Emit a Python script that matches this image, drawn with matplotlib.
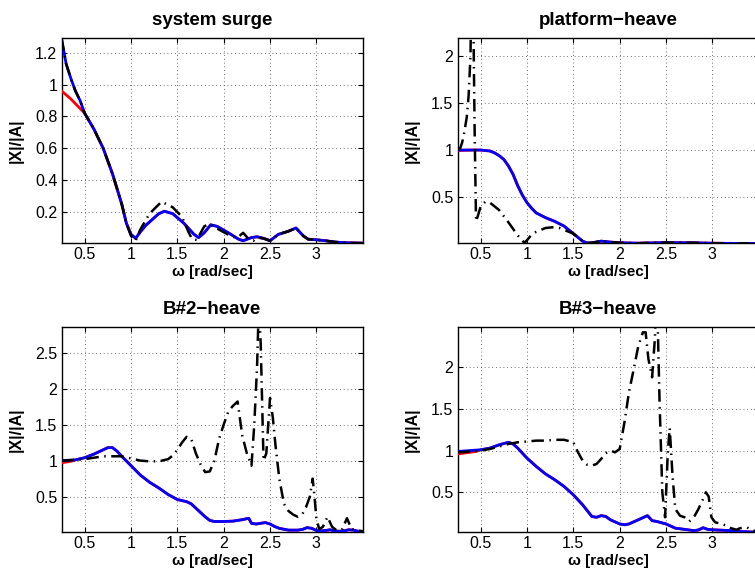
import matplotlib
matplotlib.use("Agg")
import matplotlib.pyplot as plt
import numpy as np

plt.rcParams['font.family'] = ['Liberation Sans', 'DejaVu Sans']

# ---------------- data ----------------
titles = ["system surge", "platform\u2212heave", "B#2\u2212heave", "B#3\u2212heave"]
xticks = [0.5, 1, 1.5, 2, 2.5, 3]
xtick_labels = ["0.5", "1", "1.5", "2", "2.5", "3"]
yticks_surge = [0.2, 0.4, 0.6, 0.8, 1.0, 1.2]
yticks_heave = [0.5, 1.0, 1.5, 2.0, 2.5]
xlim = (0.25, 3.5)
ylims = [(0.004, 1.29), (0.007, 2.19), (0.005, 2.85), (0.02, 2.48)]

# system surge
w1_blue = [0.25, 0.3, 0.35, 0.4, 0.45, 0.5, 0.6, 0.7, 0.8, 0.9, 0.95, 1.0, 1.05, 1.1, 1.16, 1.3, 1.36,
           1.45, 1.57, 1.68, 1.73, 1.79, 1.86, 1.93, 2.05, 2.16, 2.21, 2.3, 2.36, 2.43, 2.5, 2.59, 2.7,
           2.78, 2.86, 2.91, 3.02, 3.1, 3.2, 3.3, 3.4, 3.5]
v1_blue = [1.29, 1.13, 1.04, 0.96, 0.9, 0.82, 0.72, 0.6, 0.44, 0.25, 0.13, 0.06, 0.035, 0.075, 0.117, 0.19,
           0.205, 0.19, 0.13, 0.06, 0.04, 0.07, 0.12, 0.11, 0.07, 0.03, 0.02, 0.04, 0.045, 0.035, 0.02,
           0.06, 0.08, 0.1, 0.05, 0.03, 0.025, 0.02, 0.012, 0.008, 0.006, 0.005]
w1_red_head = [0.25, 0.3, 0.35, 0.4, 0.45]
v1_red_head = [0.96, 0.935, 0.91, 0.88, 0.85]
w1_black = [0.25, 0.3, 0.35, 0.4, 0.45, 0.5, 0.6, 0.7, 0.8, 0.9, 0.95, 1.0, 1.05, 1.1, 1.2, 1.33,
            1.45, 1.55, 1.62, 1.66, 1.71, 1.79, 1.84, 1.95, 2.09, 2.15, 2.21, 2.27, 2.32, 2.36, 2.43,
            2.5, 2.59, 2.7, 2.78, 2.86, 2.91, 3.02, 3.1, 3.2, 3.3, 3.4, 3.5]
v1_black = [1.29, 1.13, 1.04, 0.96, 0.9, 0.82, 0.72, 0.6, 0.44, 0.25, 0.13, 0.05, 0.02, 0.09, 0.19, 0.265,
            0.23, 0.17, 0.075, 0.03, 0.025, 0.11, 0.125, 0.09, 0.045, 0.04, 0.07, 0.03, 0.02, 0.04, 0.035,
            0.02, 0.06, 0.08, 0.1, 0.05, 0.03, 0.025, 0.02, 0.012, 0.008, 0.006, 0.005]

# platform heave
w2_blue = [0.25, 0.4, 0.5, 0.6, 0.65, 0.7, 0.75, 0.8, 0.85, 0.9, 0.95, 1.0, 1.05, 1.1, 1.2, 1.3, 1.4,
           1.5, 1.6, 1.65, 1.7, 1.8, 1.9, 2.0, 2.2, 2.5, 2.8, 3.0, 3.2, 3.5]
v2_blue = [1.0, 1.0, 1.0, 0.99, 0.97, 0.94, 0.9, 0.83, 0.74, 0.62, 0.52, 0.44, 0.38, 0.33, 0.28, 0.24, 0.19,
           0.11, 0.03, 0.01, 0.012, 0.03, 0.02, 0.012, 0.008, 0.015, 0.012, 0.008, 0.006, 0.005]
w2_red_head = [0.25, 0.4]
v2_red_head = [0.995, 1.0]
w2_black = [0.25, 0.28, 0.3, 0.32, 0.35, 0.37, 0.39, 0.405, 0.42, 0.435, 0.45, 0.47, 0.5, 0.55, 0.6, 0.7,
            0.8, 0.9, 0.95, 0.97, 1.0, 1.05, 1.1, 1.2, 1.3, 1.35, 1.4, 1.45, 1.5, 1.6, 1.65, 1.7, 1.8,
            1.9, 2.0, 2.2, 2.5, 2.8, 3.0, 3.2, 3.5]
v2_black = [1.0, 1.02, 1.08, 1.17, 1.35, 1.58, 2.0, 3.0, 2.5, 1.2, 0.24, 0.3, 0.4, 0.45, 0.44, 0.36,
            0.23, 0.09, 0.04, 0.01, 0.04, 0.1, 0.13, 0.17, 0.18, 0.17, 0.15, 0.13, 0.11, 0.03, 0.01, 0.012,
            0.03, 0.02, 0.012, 0.008, 0.015, 0.012, 0.008, 0.006, 0.005]

# B#2 heave
w3_blue = [0.25, 0.4, 0.5, 0.6, 0.7, 0.75, 0.8, 0.85, 0.9, 1.0, 1.1, 1.2, 1.3, 1.4, 1.5, 1.6, 1.65, 1.7,
           1.8, 1.85, 1.9, 2.0, 2.1, 2.2, 2.27, 2.3, 2.35, 2.4, 2.45, 2.5, 2.55, 2.6, 2.7, 2.8, 2.85,
           2.9, 2.95, 3.0, 3.05, 3.1, 3.15, 3.2, 3.25, 3.3, 3.35, 3.4, 3.45, 3.5]
v3_blue = [1.0, 1.01, 1.04, 1.09, 1.15, 1.18, 1.18, 1.13, 1.06, 0.93, 0.8, 0.7, 0.62, 0.53, 0.46, 0.43,
           0.4, 0.34, 0.22, 0.17, 0.155, 0.155, 0.16, 0.18, 0.2, 0.13, 0.12, 0.13, 0.14, 0.12, 0.085,
           0.06, 0.035, 0.035, 0.045, 0.07, 0.06, 0.03, 0.025, 0.03, 0.04, 0.02, 0.02, 0.025, 0.04,
           0.035, 0.02, 0.015]
w3_red_head = [0.25, 0.3, 0.35]
v3_red_head = [0.97, 0.98, 0.99]
w3_black = [0.25, 0.4, 0.5, 0.6, 0.7, 0.8, 0.9, 1.0, 1.1, 1.2, 1.3, 1.4, 1.45, 1.5, 1.55, 1.6, 1.65,
            1.7, 1.75, 1.8, 1.85, 1.9, 1.95, 2.0, 2.05, 2.1, 2.15, 2.2, 2.25, 2.3, 2.33, 2.36, 2.38,
            2.4, 2.43, 2.46, 2.5, 2.53, 2.56, 2.6, 2.65, 2.7, 2.75, 2.8, 2.85, 2.89, 2.93, 2.96, 2.98,
            3.0, 3.03, 3.07, 3.12, 3.17, 3.22, 3.28, 3.33, 3.38, 3.45, 3.5]
v3_black = [1.0, 1.01, 1.02, 1.04, 1.06, 1.06, 1.06, 1.03, 1.0, 0.99, 0.99, 1.02, 1.07, 1.15, 1.25,
            1.33, 1.3, 1.1, 0.95, 0.84, 0.85, 1.0, 1.3, 1.5, 1.68, 1.76, 1.82, 1.35, 1.1, 0.93, 1.5,
            2.3, 3.2, 2.6, 1.0, 1.1, 1.87, 1.6, 1.2, 0.75, 0.4, 0.3, 0.25, 0.22, 0.26, 0.36, 0.5,
            0.75, 0.5, 0.2, 0.05, 0.08, 0.22, 0.08, 0.03, 0.05, 0.2, 0.05, 0.03, 0.02]

# B#3 heave
w4_blue = [0.25, 0.5, 0.6, 0.7, 0.8, 0.85, 0.9, 1.0, 1.1, 1.2, 1.3, 1.4, 1.5, 1.6, 1.7, 1.75, 1.8, 1.85,
           1.9, 2.0, 2.05, 2.1, 2.2, 2.3, 2.35, 2.4, 2.5, 2.6, 2.7, 2.8, 2.85, 2.9, 2.95, 3.0, 3.1, 3.2,
           3.3, 3.4, 3.5]
v4_blue = [0.99, 1.01, 1.03, 1.07, 1.1, 1.08, 1.03, 0.91, 0.81, 0.72, 0.65, 0.57, 0.47, 0.35, 0.21, 0.2,
           0.22, 0.21, 0.17, 0.12, 0.11, 0.12, 0.17, 0.22, 0.16, 0.15, 0.12, 0.07, 0.055, 0.04, 0.048,
           0.075, 0.055, 0.05, 0.045, 0.04, 0.03, 0.025, 0.02]
w4_red_head = [0.25, 0.35, 0.45]
v4_red_head = [0.96, 0.975, 0.99]
w4_black = [0.25, 0.4, 0.5, 0.6, 0.7, 0.8, 0.9, 1.0, 1.1, 1.2, 1.3, 1.4, 1.5, 1.55, 1.6, 1.65, 1.7,
            1.75, 1.8, 1.85, 1.9, 1.95, 2.0, 2.05, 2.1, 2.15, 2.2, 2.25, 2.28, 2.31, 2.35, 2.38, 2.4,
            2.43, 2.46, 2.49, 2.52, 2.54, 2.57, 2.6, 2.65, 2.7, 2.75, 2.8, 2.85, 2.9, 2.93, 2.96, 2.99,
            3.03, 3.1, 3.15, 3.2, 3.26, 3.3, 3.37, 3.44, 3.5]
v4_black = [0.98, 0.99, 1.0, 1.02, 1.05, 1.08, 1.1, 1.11, 1.12, 1.12, 1.13, 1.13, 1.1, 0.98, 0.88, 0.83,
            0.82, 0.84, 0.9, 0.97, 1.0, 0.98, 1.02, 1.33, 1.7, 1.97, 2.25, 2.42, 2.42, 2.1, 1.88, 2.35,
            3.0, 1.6, 0.5, 0.2, 1.0, 1.27, 0.7, 0.3, 0.22, 0.2, 0.15, 0.2, 0.3, 0.42, 0.5, 0.45, 0.2,
            0.14, 0.12, 0.1, 0.07, 0.05, 0.07, 0.08, 0.04, 0.03]

panels = [
    (w1_blue, v1_blue, w1_red_head, v1_red_head, w1_black, v1_black, yticks_surge),
    (w2_blue, v2_blue, w2_red_head, v2_red_head, w2_black, v2_black, yticks_heave[:4]),
    (w3_blue, v3_blue, w3_red_head, v3_red_head, w3_black, v3_black, yticks_heave),
    (w4_blue, v4_blue, w4_red_head, v4_red_head, w4_black, v4_black, yticks_heave[:4]),
]

# ---------------- layout ----------------
W, H = 755, 576
fig = plt.figure(figsize=(W / 100, H / 100), dpi=100)
ax_w = 301.2 / W
ax_h = 205 / H
lefts = [61.5 / W, 457.5 / W]
bottoms = [1 - 243.3 / H, 1 - 532.3 / H]
positions = [(lefts[0], bottoms[0]), (lefts[1], bottoms[0]), (lefts[0], bottoms[1]), (lefts[1], bottoms[1])]

dashdot = (0, (5.0, 2.2, 0.6, 2.2))

for i, (wb, vb, wr, vr, wk, vk, yt) in enumerate(panels):
    x0, y0 = positions[i]
    ax = fig.add_axes([x0, y0, ax_w, ax_h])
    # red: head then follow blue
    w_red = list(wr) + [w for w in wb if w > wr[-1]]
    v_red = list(vr) + [v for w, v in zip(wb, vb) if w > wr[-1]]
    ax.plot(w_red, v_red, color='#ff0000', lw=2.0, solid_joinstyle='round', zorder=3)
    ax.plot(wb, vb, color='#0000ff', lw=2.0, solid_joinstyle='round', zorder=4)
    ax.plot(wk, vk, color='black', lw=1.8, linestyle=dashdot, zorder=5)
    ax.set_xlim(*xlim)
    ax.set_ylim(*ylims[i])
    ax.set_xticks(xticks)
    ax.set_xticklabels(xtick_labels)
    ax.set_yticks(yt)
    ax.set_yticklabels([("%g" % t) for t in yt])
    ax.tick_params(direction='in', top=True, right=True, length=3.5, width=0.8,
                   labelsize=11.5, pad=3)
    ax.grid(True, color='0.25', linestyle=(0, (1, 3.5)), linewidth=0.6)
    for s in ax.spines.values():
        s.set_linewidth(1.0)
        s.set_color('black')
    ax.set_title(titles[i], fontsize=13.5, fontweight='bold', pad=9.5)
    ax.set_xlabel("\u03c9 [rad/sec]", fontsize=11, fontweight='bold', labelpad=1.5)
    ax.set_ylabel("|X|/|A|", fontsize=11.5, fontweight='bold', labelpad=8)

fig.savefig('out.png', dpi=100)
